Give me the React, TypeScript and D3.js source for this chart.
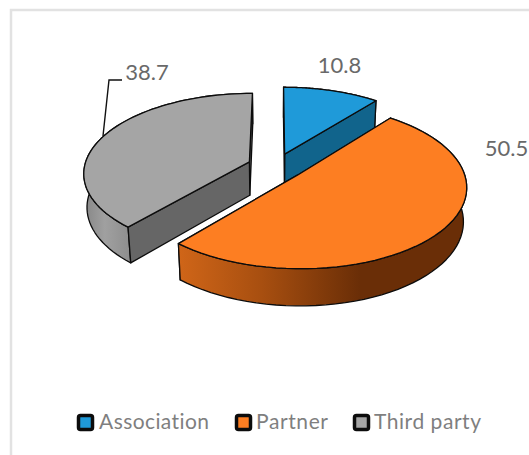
import React from "react";
import * as d3 from "d3";

const categories = ["Association", "Partner", "Third party"];
const values = [10.8, 50.5, 38.7];
const valueLabels = ["10.8", "50.5", "38.7"];
const topColors = ["#1f9ad9", "#fd7e22", "#a5a5a5"];
const faceColors = ["#11648c", "#6b2f07", "#666666"];

const W = 529, H = 455;
const ox = 275.5, oy = 166.5, S = 165, persp = 0.15, elev = (28.5 * Math.PI) / 180;
const explode = 0.17, depth = 0.235;
const ce = Math.cos(elev), se = Math.sin(elev);

type P = [number, number];
function project(x: number, y: number, z: number): P {
  const zc = y * ce + z * se;
  const w = 1 - persp * zc;
  return [ox + (S * x) / w, oy + (S * (y * se - z * ce)) / w];
}

const line = d3.line<P>();
const arcs = d3.pie<number>().sort(null).startAngle(0).endAngle(2 * Math.PI)(values);

function geom(a0: number, a1: number) {
  const mid = (a0 + a1) / 2;
  const dx = explode * Math.sin(mid), dy = -explode * Math.cos(mid);
  const rim = (z: number, from = a0, to = a1) =>
    d3.range(0, 61).map((i) => {
      const a = from + ((to - from) * i) / 60;
      return project(dx + Math.sin(a), dy - Math.cos(a), z);
    });
  const apex = (z: number) => project(dx, dy, z);
  return { rim, apex };
}

const legendX = [77, 235, 353];
const legendTextX = [99, 256, 374];
const legendWidths = [110, 72, 107];
const labelPos: P[] = [[339.5, 73], [506.5, 156], [147, 80]];

export default function App() {
  return (
    <svg width={W} height={H} style={{ position: "fixed", left: 0, top: 0, background: "#fff" }}>
      <defs>
        <linearGradient id="orangeSide" gradientUnits="userSpaceOnUse" x1={180} x2={360} y1={0} y2={0}>
          <stop offset="0" stopColor="#cf6518" />
          <stop offset="0.45" stopColor="#a84f10" />
          <stop offset="1" stopColor="#6a2e07" />
        </linearGradient>
        <linearGradient id="graySide" gradientUnits="userSpaceOnUse" x1={84} x2={130} y1={0} y2={0}>
          <stop offset="0" stopColor="#868686" />
          <stop offset="0.45" stopColor="#a0a0a0" />
          <stop offset="1" stopColor="#8e8e8e" />
        </linearGradient>
      </defs>
      <path d={`M11,455V10H529`} fill="none" stroke="#e2e2e2" strokeWidth={2.5} />
      {[2, 0, 1].map((i) => {
        const { rim, apex } = geom(arcs[i].startAngle, arcs[i].endAngle);
        const top = rim(0), bot = rim(-depth);
        const face = (k: number) => {
          const t = top[k], b = bot[k];
          return line([apex(0), t, b, apex(-depth)]) + "Z";
        };
        const band = line([...top, ...bot.slice().reverse()]) + "Z";
        const sideFill = i === 1 ? "url(#orangeSide)" : i === 2 ? "url(#graySide)" : faceColors[i];
        const bandEl = <path d={band} fill={sideFill} />;
        return (
          <g key={categories[i]} stroke="#0c0c0c" strokeWidth={1.3} strokeLinejoin="round">
            {i !== 1 && bandEl}
            <path d={face(60)} fill={faceColors[i]} />
            <path d={face(0)} fill={faceColors[i]} />
            {i === 1 && bandEl}
            <path d={line([apex(0), ...top]) + "Z"} fill={topColors[i]} />
          </g>
        );
      })}
      <path d="M103,136L109,80H122" fill="none" stroke="#111" strokeWidth={1.4} />
      {valueLabels.map((t, i) => (
        <text key={t} x={labelPos[i][0]} y={labelPos[i][1]} textAnchor="middle" fontFamily="Lato, 'Open Sans', sans-serif" fontSize={22} fill="#696969">
          {t}
        </text>
      ))}
      {categories.map((c, i) => (
        <g key={c}>
          <rect x={legendX[i] + 1.5} y={415.5} width={14} height={14} rx={2} fill={topColors[i]} stroke="#0c0c0c" strokeWidth={3.5} />
          <text x={legendTextX[i]} y={429} fontFamily="Lato, 'Open Sans', sans-serif" fontSize={21} fill="#7f7f7f" textLength={legendWidths[i]} lengthAdjust="spacing" style={{ fontVariantLigatures: "none" }}>
            {c}
          </text>
        </g>
      ))}
    </svg>
  );
}
